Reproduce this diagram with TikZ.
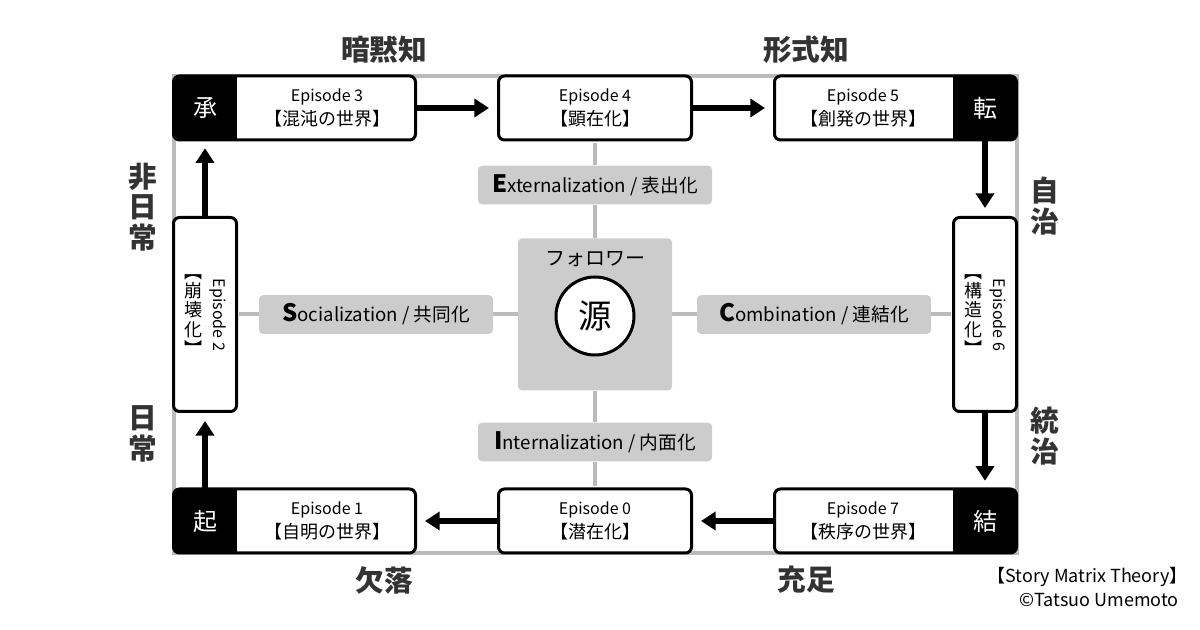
\documentclass[tikz,border=0pt]{standalone}
\usepackage{fontspec}
\setmainfont{Noto Sans CJK JP}
\usetikzlibrary{arrows.meta}

\definecolor{framegray}{HTML}{BBBBBB}
\definecolor{boxgray}{HTML}{CCCCCC}
\definecolor{headgray}{HTML}{333333}

\begin{document}
\begin{tikzpicture}[x=0.75pt,y=0.75pt,yscale=-1,xscale=1,
    episode/.style={draw,line width=2.25pt,rounded corners=4.5pt,fill=white,inner sep=0pt,minimum height=48pt},
    tag/.style={fill=black,rounded corners=4.5pt,minimum width=47.25pt,minimum height=48pt,inner sep=0pt},
    tagtext/.style={text=white,inner sep=0pt,font=\fontsize{18}{18}\selectfont},
    eptext/.style={align=center,inner sep=0pt,font=\fontsize{12}{18}\selectfont},
    tate/.style={align=center,inner sep=0pt,font=\fontsize{13.5}{14.5}\selectfont},
    phase/.style={fill=boxgray,rounded corners=3pt,minimum width=175.5pt,minimum height=29pt,inner sep=0pt,font=\fontsize{14}{14}\selectfont},
    head/.style={text=headgray,align=center,inner sep=0pt,font=\bfseries\fontsize{21.5}{23}\selectfont},
    axis/.style={draw=framegray,line width=3pt},
    flow/.style={line width=4.5pt,-{Triangle[length=11pt,width=13.5pt]},shorten >=6pt}]
        \useasboundingbox (0,0) rectangle (1200,630);
        
        %Shape: Rectangle [frame]
        \draw[axis] (173.5,76) rectangle (1016.5,553);
        
        %Shape: Episode 3
        \node[episode,minimum width=181.5pt] (ep3) at (294.5,108) {};
        \node[tag] (sho) at (205,108) {};
        \fill (sho.north) rectangle (sho.south east);
        \node[tagtext] (shot) at (sho) {承};
        % Text Node
        \node[eptext] (ep3t) at (327,108) {Episode 3\\{\fontsize{13.5}{18}\selectfont【混沌の世界】}};
        
        %Shape: Episode 4
        \node[episode,minimum width=144.75pt] (ep4) at (595,108) {};
        % Text Node
        \node[eptext] (ep4t) at (595,108) {Episode 4\\{\fontsize{13.5}{18}\selectfont【顕在化】}};
        
        %Shape: Episode 5
        \node[episode,minimum width=181.5pt] (ep5) at (895.5,108) {};
        \node[tag] (ten) at (985,108) {};
        \fill (ten.north west) rectangle (ten.south);
        \node[tagtext] (tent) at (ten) {転};
        % Text Node
        \node[eptext] (ep5t) at (863,108) {Episode 5\\{\fontsize{13.5}{18}\selectfont【創発の世界】}};
        
        %Shape: Episode 1
        \node[episode,minimum width=181.5pt] (ep1) at (294.5,521) {};
        \node[tag] (ki) at (205,521) {};
        \fill (ki.north) rectangle (ki.south east);
        \node[tagtext] (kit) at (ki) {起};
        % Text Node
        \node[eptext] (ep1t) at (327,521) {Episode 1\\{\fontsize{13.5}{18}\selectfont【自明の世界】}};
        
        %Shape: Episode 0
        \node[episode,minimum width=144.75pt] (ep0) at (595,521) {};
        % Text Node
        \node[eptext] (ep0t) at (595,521) {Episode 0\\{\fontsize{13.5}{18}\selectfont【潜在化】}};
        
        %Shape: Episode 7
        \node[episode,minimum width=181.5pt] (ep7) at (895.5,521) {};
        \node[tag] (ketsu) at (985,521) {};
        \fill (ketsu.north west) rectangle (ketsu.south);
        \node[tagtext] (ketsut) at (ketsu) {結};
        % Text Node
        \node[eptext] (ep7t) at (863,521) {Episode 7\\{\fontsize{13.5}{18}\selectfont【秩序の世界】}};
        
        %Shape: Episode 2
        \node[episode,minimum width=47.25pt,minimum height=145.5pt] (ep2) at (205,314.5) {};
        \node[rotate=-90,inner sep=0pt,font=\fontsize{12}{12}\selectfont] (ep2e) at (218,315) {Episode 2};
        \node[tate] (ep2j) at (193,315) {︻\\崩\\壊\\化\\︼};
        
        %Shape: Episode 6
        \node[episode,minimum width=47.25pt,minimum height=145.5pt] (ep6) at (985,314.5) {};
        \node[rotate=-90,inner sep=0pt,font=\fontsize{12}{12}\selectfont] (ep6e) at (998,315) {Episode 6};
        \node[tate] (ep6j) at (973,315) {︻\\構\\造\\化\\︼};
        
        %Shape: Rectangle [source]
        \node[fill=boxgray,rounded corners=3pt,minimum width=115.5pt,minimum height=114pt] (src) at (595,314.5) {};
        % Text Node
        \node[inner sep=0pt,font=\fontsize{15}{15}\selectfont] (follower) at (595,259) {フォロワー};
        \node[circle,draw,line width=2.25pt,fill=white,minimum size=58.5pt,inner sep=0pt,font=\fontsize{25}{25}\selectfont] (gen) at (595,316) {源};
        
        %Shape: phases
        \node[phase] (ext) at (595,185) {{\bfseries\fontsize{18}{18}\selectfont E}xternalization / 表出化};
        \node[phase] (int) at (595,442) {{\bfseries\fontsize{18}{18}\selectfont I}nternalization / 内面化};
        \node[phase] (soc) at (376,314.5) {{\bfseries\fontsize{18}{18}\selectfont S}ocialization / 共同化};
        \node[phase] (comb) at (814,314.5) {{\bfseries\fontsize{18}{18}\selectfont C}ombination / 連結化};
        
        %Straight Lines [cross]
        \draw[axis,shorten <=1pt] (ep4) -- (ext);
        \draw[axis] (ext) -- (src);
        \draw[axis] (src) -- (int);
        \draw[axis,shorten >=1pt] (int) -- (ep0);
        \draw[axis,shorten <=1pt] (ep2) -- (soc);
        \draw[axis] (soc) -- (src);
        \draw[axis] (src) -- (comb);
        \draw[axis,shorten >=1pt] (comb) -- (ep6);
        
        %Straight Lines [flow]
        \draw[flow] (ep3) -- (ep4);
        \draw[flow] (ep4) -- (ep5);
        \draw[flow] (ten) -- (ep6);
        \draw[flow] (ep6) -- (ketsu);
        \draw[flow] (ep7) -- (ep0);
        \draw[flow] (ep0) -- (ep1);
        \draw[flow] (ki) -- (ep2);
        \draw[flow] (ep2) -- (sho);
        
        % Text Node
        \node[head] (anmoku) at (384,50) {暗黙知};
        \node[head] (keishiki) at (806,50) {形式知};
        \node[head] (ketsuraku) at (384,580) {欠落};
        \node[head] (jusoku) at (806,580) {充足};
        \node[head] (hinichijo) at (143,207) {非\\日\\常};
        \node[head] (nichijo) at (143,434) {日\\常};
        \node[head] (jichi) at (1045,206) {自\\治};
        \node[head] (tochi) at (1045,436) {統\\治};
        % Text Node
        \node[anchor=east,align=right,inner sep=0pt,font=\fontsize{13.5}{17.5}\selectfont] (credit) at (1188,587) {【Story Matrix Theory】\\©Tatsuo Umemoto\hspace*{0.5em}};
        
        
\end{tikzpicture}
\end{document}
